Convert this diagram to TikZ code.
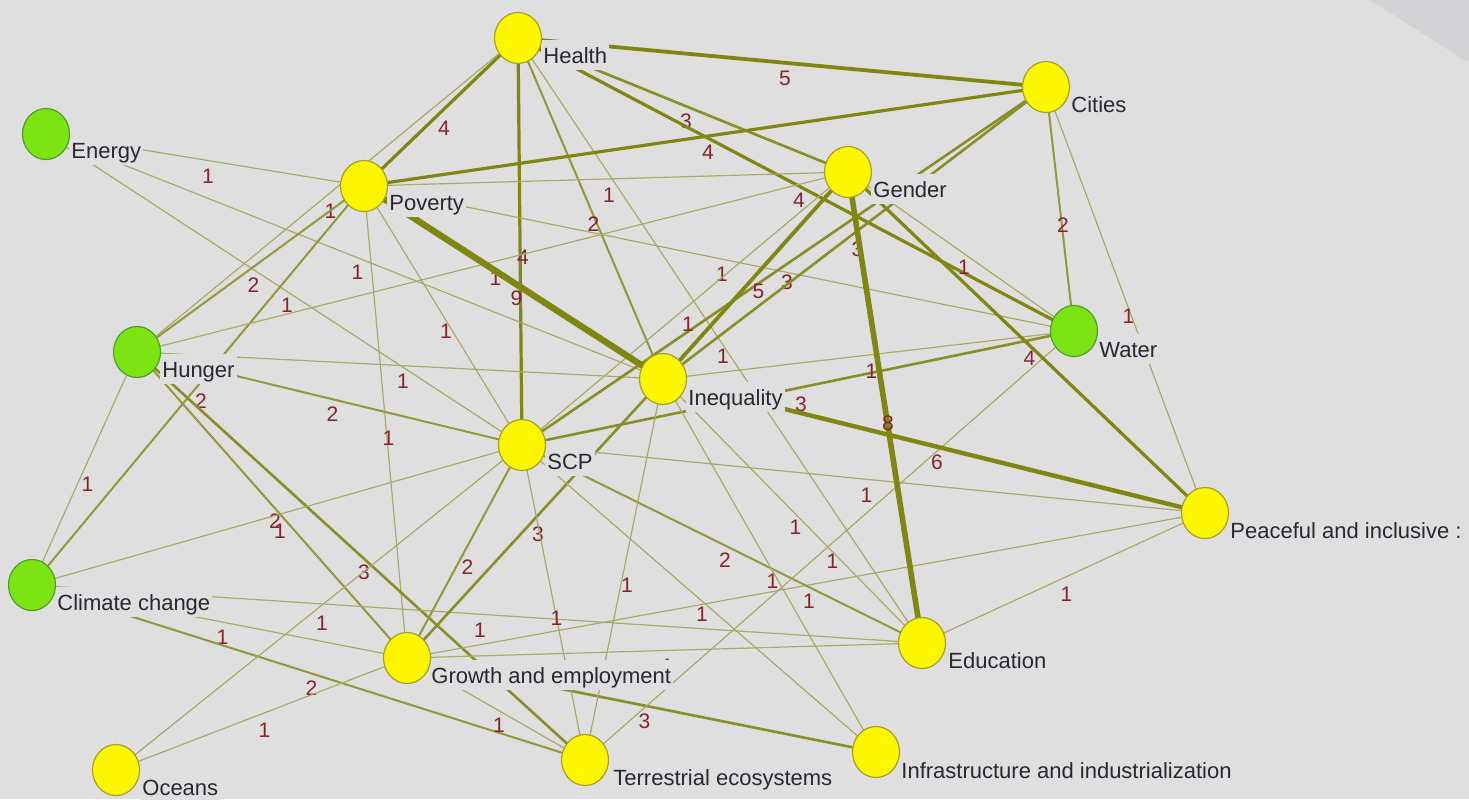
\documentclass[tikz,border=0pt]{standalone}
\usepackage{fontspec}
\setmainfont{Liberation Sans}
\usetikzlibrary{shapes.geometric}
\pgfdeclarelayer{bglayer}
\pgfdeclarelayer{edgelayer}
\pgfdeclarelayer{labellayer}
\pgfsetlayers{bglayer,edgelayer,labellayer,main}
\definecolor{bgc}{RGB}{223,223,223}
\definecolor{tric}{RGB}{211,211,214}
\definecolor{ecol}{RGB}{128,134,18}
\definecolor{wcol}{RGB}{135,35,45}
\definecolor{txt}{RGB}{40,40,50}
\definecolor{ylw}{RGB}{252,246,0}
\definecolor{ylwline}{RGB}{168,160,40}
\definecolor{grn}{RGB}{125,228,20}
\definecolor{grnline}{RGB}{80,160,40}
\tikzset{
  sdg/.style={ellipse, draw=ylwline, fill=ylw, line width=0.6pt,
    minimum width=23.5pt, minimum height=25.5pt, inner sep=0pt},
  sdgg/.style={sdg, draw=grnline, fill=grn},
  lab/.style={anchor=base west, fill=bgc, text=txt,
    font=\fontsize{11}{13}\selectfont, inner xsep=1pt, inner ysep=1pt,
    text height=10.5pt, text depth=2.5pt},
  wl/.style={midway, xshift=1.5pt, yshift=-8pt, inner sep=0pt,
    font=\fontsize{10.5}{12}\selectfont, text=wcol},
  e1/.style={draw=ecol!58!bgc, line width=0.6pt},
  e2/.style={draw=ecol!80!bgc, line width=1.0pt},
  e3/.style={draw=ecol!90!bgc, line width=1.3pt},
  e4/.style={draw=ecol, line width=1.6pt},
  e5/.style={draw=ecol, line width=1.9pt},
  e6/.style={draw=ecol, line width=2.2pt},
  e8/.style={draw=ecol, line width=2.8pt},
  e9/.style={draw=ecol, line width=3.2pt}
}
\newcommand{\lnk}[3]{\draw[e#3] (#1.center) -- node[wl]{#3} (#2.center);}
\begin{document}
\begin{tikzpicture}[x=0.5pt,y=-0.5pt]
\begin{pgfonlayer}{bglayer}
\fill[bgc] (0,0) rectangle (1469,799);
\fill[tric] (1370,0) -- (1469,0) -- (1469,63) -- cycle;
\end{pgfonlayer}
\useasboundingbox (0,0) rectangle (1469,799);
% circles
\node[sdg]  (H)  at (518,38)  {};
\node[sdg]  (C)  at (1046,87) {};
\node[sdgg] (E)  at (46,134)  {};
\node[sdg]  (P)  at (364,186) {};
\node[sdg]  (G)  at (848,172) {};
\node[sdgg] (W)  at (1074,331) {};
\node[sdgg] (Hu) at (137,352) {};
\node[sdg]  (I)  at (663,379) {};
\node[sdg]  (S)  at (522,445) {};
\node[sdg]  (PI) at (1205,513) {};
\node[sdgg] (CC) at (32,585)  {};
\node[sdg]  (GE) at (407,658) {};
\node[sdg]  (Ed) at (922,643) {};
\node[sdg]  (O)  at (116,770) {};
\node[sdg]  (T)  at (585,760) {};
\node[sdg]  (In) at (876,752) {};
% labels
\begin{pgfonlayer}{labellayer}
\node[lab] (Hl)  at (541,63)  {Health};
\node[lab] (Cl)  at (1069,112) {Cities};
\node[lab] (El)  at (69,158)  {Energy};
\node[lab] (Pl)  at (387,210) {Poverty};
\node[lab] (Gl)  at (871,197) {Gender};
\node[lab] (Wl)  at (1097,357) {Water};
\node[lab] (Hul) at (160,377) {Hunger};
\node[lab] (Il)  at (686,405) {Inequality};
\node[lab] (Sl)  at (545,469) {SCP};
\node[lab] (PIl) at (1228,538) {Peaceful and inclusive :};
\node[lab] (CCl) at (55,610)  {Climate change};
\node[lab] (GEl) at (429,683) {Growth and employment};
\node[lab] (Edl) at (946,668) {Education};
\node[lab] (Ol)  at (140,795) {Oceans};
\node[lab] (Tl)  at (611,785) {Terrestrial ecosystems};
\node[lab] (Inl) at (899,778) {Infrastructure and industrialization};
\end{pgfonlayer}
% edges
\begin{pgfonlayer}{edgelayer}
\lnk{H}{C}{5}
\lnk{H}{P}{4}
\lnk{H}{Hu}{1}
\lnk{H}{S}{4}
\lnk{H}{I}{2}
\lnk{H}{Ed}{1}
\lnk{H}{G}{3}
\lnk{H}{W}{4}
\lnk{P}{C}{4}
\lnk{E}{P}{1}
\lnk{E}{I}{1}
\lnk{E}{S}{1}
\lnk{P}{Hu}{2}
\lnk{P}{CC}{2}
\lnk{P}{S}{1}
\lnk{P}{GE}{1}
\lnk{P}{G}{1}
\lnk{P}{W}{1}
\lnk{Hu}{G}{1}
\lnk{Hu}{I}{1}
\lnk{Hu}{S}{2}
\lnk{Hu}{GE}{2}
\lnk{Hu}{T}{3}
\lnk{Hu}{CC}{1}
\lnk{CC}{S}{1}
\lnk{CC}{Ed}{1}
\lnk{CC}{GE}{1}
\lnk{CC}{T}{2}
\lnk{O}{GE}{1}
\lnk{O}{S}{1}
\lnk{GE}{S}{2}
\lnk{GE}{I}{3}
\lnk{GE}{T}{1}
\lnk{GE}{In}{3}
\lnk{GE}{PI}{1}
\lnk{GE}{Ed}{1}
\lnk{S}{T}{1}
\lnk{S}{In}{1}
\lnk{S}{Ed}{2}
\lnk{S}{PI}{1}
\lnk{S}{W}{3}
\lnk{S}{C}{3}
\lnk{S}{G}{1}
\lnk{I}{T}{1}
\lnk{I}{In}{1}
\lnk{I}{Ed}{1}
\lnk{I}{W}{1}
\lnk{I}{C}{3}
\lnk{I}{G}{5}
\lnk{G}{W}{1}
\lnk{C}{W}{2}
\lnk{C}{PI}{1}
\lnk{W}{T}{1}
\lnk{Ed}{PI}{1}
\lnk{G}{PI}{4}
\lnk{I}{PI}{6}
\lnk{G}{Ed}{8}
\lnk{P}{I}{9}
\end{pgfonlayer}
\end{tikzpicture}
\end{document}
